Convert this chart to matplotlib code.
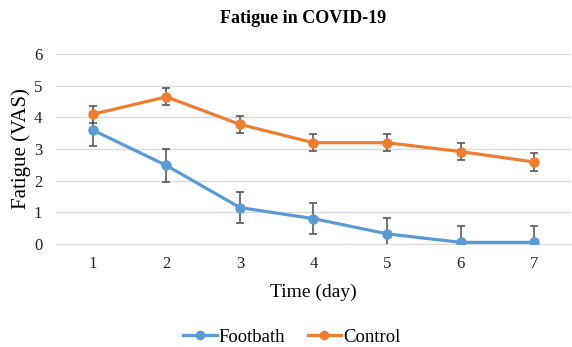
import matplotlib
matplotlib.use("Agg")
import matplotlib.pyplot as plt
from matplotlib.lines import Line2D

days = [1, 2, 3, 4, 5, 6, 7]
footbath = [3.6, 2.48, 1.15, 0.8, 0.32, 0.05, 0.05]
footbath_err = [0.5, 0.52, 0.5, 0.5, 0.5, 0.52, 0.52]
control = [4.1, 4.65, 3.78, 3.2, 3.2, 2.92, 2.59]
control_err = [0.27, 0.27, 0.27, 0.27, 0.27, 0.27, 0.27]

BLUE, ORANGE = "#5B9BD5", "#ED7D31"

plt.rcParams["font.family"] = ["Liberation Serif", "DejaVu Serif"]

fig = plt.figure(figsize=(5.72, 3.47), dpi=100)
ax = fig.add_axes([0.098, 0.297, 0.9, 0.547])

ekw = dict(ecolor="#595959", elinewidth=1.2, capsize=3, capthick=1.2)
ax.errorbar(days, footbath, yerr=footbath_err, color=BLUE, lw=2.3,
            marker="o", ms=6.5, zorder=3, **ekw)
ax.errorbar(days, control, yerr=control_err, color=ORANGE, lw=2.3,
            marker="o", ms=6.5, zorder=4, **ekw)

ax.set_xlim(0.5, 7.5)
ax.set_ylim(0, 6)
ax.set_xticks(days)
ax.set_yticks(range(0, 7))
ax.grid(axis="y", color="#d9d9d9", lw=1)
ax.set_axisbelow(True)
for s in ("top", "right", "left"):
    ax.spines[s].set_visible(False)
ax.spines["bottom"].set_color("#d9d9d9")
ax.tick_params(axis="both", length=0, labelsize=12, colors="#222222")
ax.tick_params(axis="y", pad=10)
ax.tick_params(axis="x", pad=9)

ax.set_xlabel("Time (day)", fontsize=14, labelpad=8)
ax.set_ylabel("Fatigue (VAS)", fontsize=15, labelpad=2)
fig.suptitle("Fatigue in COVID-19", fontsize=13, fontweight="bold",
             x=0.53, y=0.97)

handles = [Line2D([], [], color=BLUE, lw=2.3, marker="o", ms=6),
           Line2D([], [], color=ORANGE, lw=2.3, marker="o", ms=6)]
fig.legend(handles, ["Footbath", "Control"], loc="lower center",
           bbox_to_anchor=(0.51, -0.045), ncol=2, frameon=False,
           fontsize=13.5, handlelength=1.8, columnspacing=1.2,
           handletextpad=0.1)

fig.savefig("out.png", dpi=100)
